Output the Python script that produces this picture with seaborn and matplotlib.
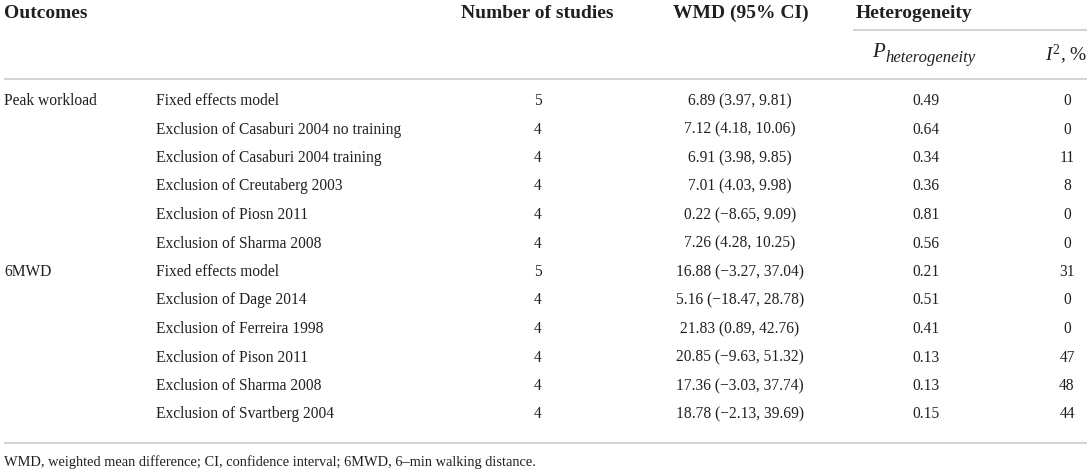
import seaborn as sns
import pandas as pd
import matplotlib.pyplot as plt

sns.set_theme(style="white")
plt.rcParams['font.family'] = ['Liberation Serif', 'DejaVu Serif']
plt.rcParams['mathtext.fontset'] = 'custom'
plt.rcParams['mathtext.rm'] = 'Liberation Serif'
plt.rcParams['mathtext.it'] = 'Liberation Serif:italic'

# table contents
outcomes = ["Peak workload", "", "", "", "", "",
            "6MWD", "", "", "", "", ""]
analyses = [
    "Fixed effects model",
    "Exclusion of Casaburi 2004 no training",
    "Exclusion of Casaburi 2004 training",
    "Exclusion of Creutaberg 2003",
    "Exclusion of Piosn 2011",
    "Exclusion of Sharma 2008",
    "Fixed effects model",
    "Exclusion of Dage 2014",
    "Exclusion of Ferreira 1998",
    "Exclusion of Pison 2011",
    "Exclusion of Sharma 2008",
    "Exclusion of Svartberg 2004",
]
n_studies = [5, 4, 4, 4, 4, 4, 5, 4, 4, 4, 4, 4]
wmd = [6.89, 7.12, 6.91, 7.01, 0.22, 7.26, 16.88, 5.16, 21.83, 20.85, 17.36, 18.78]
ci_low = [3.97, 4.18, 3.98, 4.03, -8.65, 4.28, -3.27, -18.47, 0.89, -9.63, -3.03, -2.13]
ci_high = [9.81, 10.06, 9.85, 9.98, 9.09, 10.25, 37.04, 28.78, 42.76, 51.32, 37.74, 39.69]
p_het = ["0.49", "0.64", "0.34", "0.36", "0.81", "0.56",
         "0.21", "0.51", "0.41", "0.13", "0.13", "0.15"]
i2 = [0, 0, 11, 8, 0, 0, 31, 0, 0, 47, 48, 44]
footnote = ("WMD, weighted mean difference; CI, confidence interval; "
            "6MWD, 6\u2013min walking distance.")

df = pd.DataFrame({"outcome": outcomes, "analysis": analyses, "n": n_studies,
                   "wmd": wmd, "lo": ci_low, "hi": ci_high, "p": p_het, "i2": i2})


def fmt(v):
    return f"{v:.2f}".replace("-", "\u2212")


df["wmd_txt"] = [f"{fmt(w)} ({fmt(l)}, {fmt(h)})" for w, l, h in zip(df.wmd, df.lo, df.hi)]

W, H = 1091, 472
fig = plt.figure(figsize=(W / 100, H / 100), dpi=100)
ax = fig.add_axes([0, 0, 1, 1])
ax.set_xlim(0, W)
ax.set_ylim(H, 0)
ax.axis("off")

txt = "#231f20"
rule = "#d4d4d4"
head = dict(fontsize=14, fontweight="bold", color=txt, va="center")
body = dict(fontsize=11.2, color=txt, va="center")

# header
ax.text(4, 13, "Outcomes", ha="left", **head)
ax.text(537, 13, "Number of studies", ha="center", **head)
ax.text(741, 13, "WMD (95% CI)", ha="center", **head)
ax.text(856, 13, "Heterogeneity", ha="left", **head)

# P with a large italic subscript
p_main = ax.text(872, 57, "P", ha="left", va="baseline", fontsize=15,
                 fontstyle="italic", color=txt)
fig.canvas.draw()
bb = p_main.get_window_extent().transformed(ax.transData.inverted())
ax.text(bb.x1 + 1, 62, "heterogeneity", ha="left", va="baseline", fontsize=12,
        fontstyle="italic", color=txt)
ax.text(1066, 55, r"$I^2$, %", ha="center", fontsize=14, color=txt, va="center")

ax.plot([853, 1087], [30, 30], color=rule, lw=1.5, solid_capstyle="butt")
ax.plot([4, 1087], [79, 79], color=rule, lw=1.5, solid_capstyle="butt")
ax.plot([4, 1087], [443, 443], color=rule, lw=1.5, solid_capstyle="butt")

for i, row in df.iterrows():
    y = 101 + 28.5 * i
    ax.text(4, y, row.outcome, ha="left", **body)
    ax.text(156, y, row.analysis, ha="left", **body)
    ax.text(538, y, str(row.n), ha="center", **body)
    ax.text(740, y, row.wmd_txt, ha="center", **body)
    ax.text(926, y, row.p, ha="center", **body)
    ax.text(1067, y, str(row.i2), ha="center", **body)

ax.text(4, 462, footnote, ha="left", fontsize=10.4, color=txt, va="center")

fig.savefig("out.png", dpi=100, facecolor="white")
